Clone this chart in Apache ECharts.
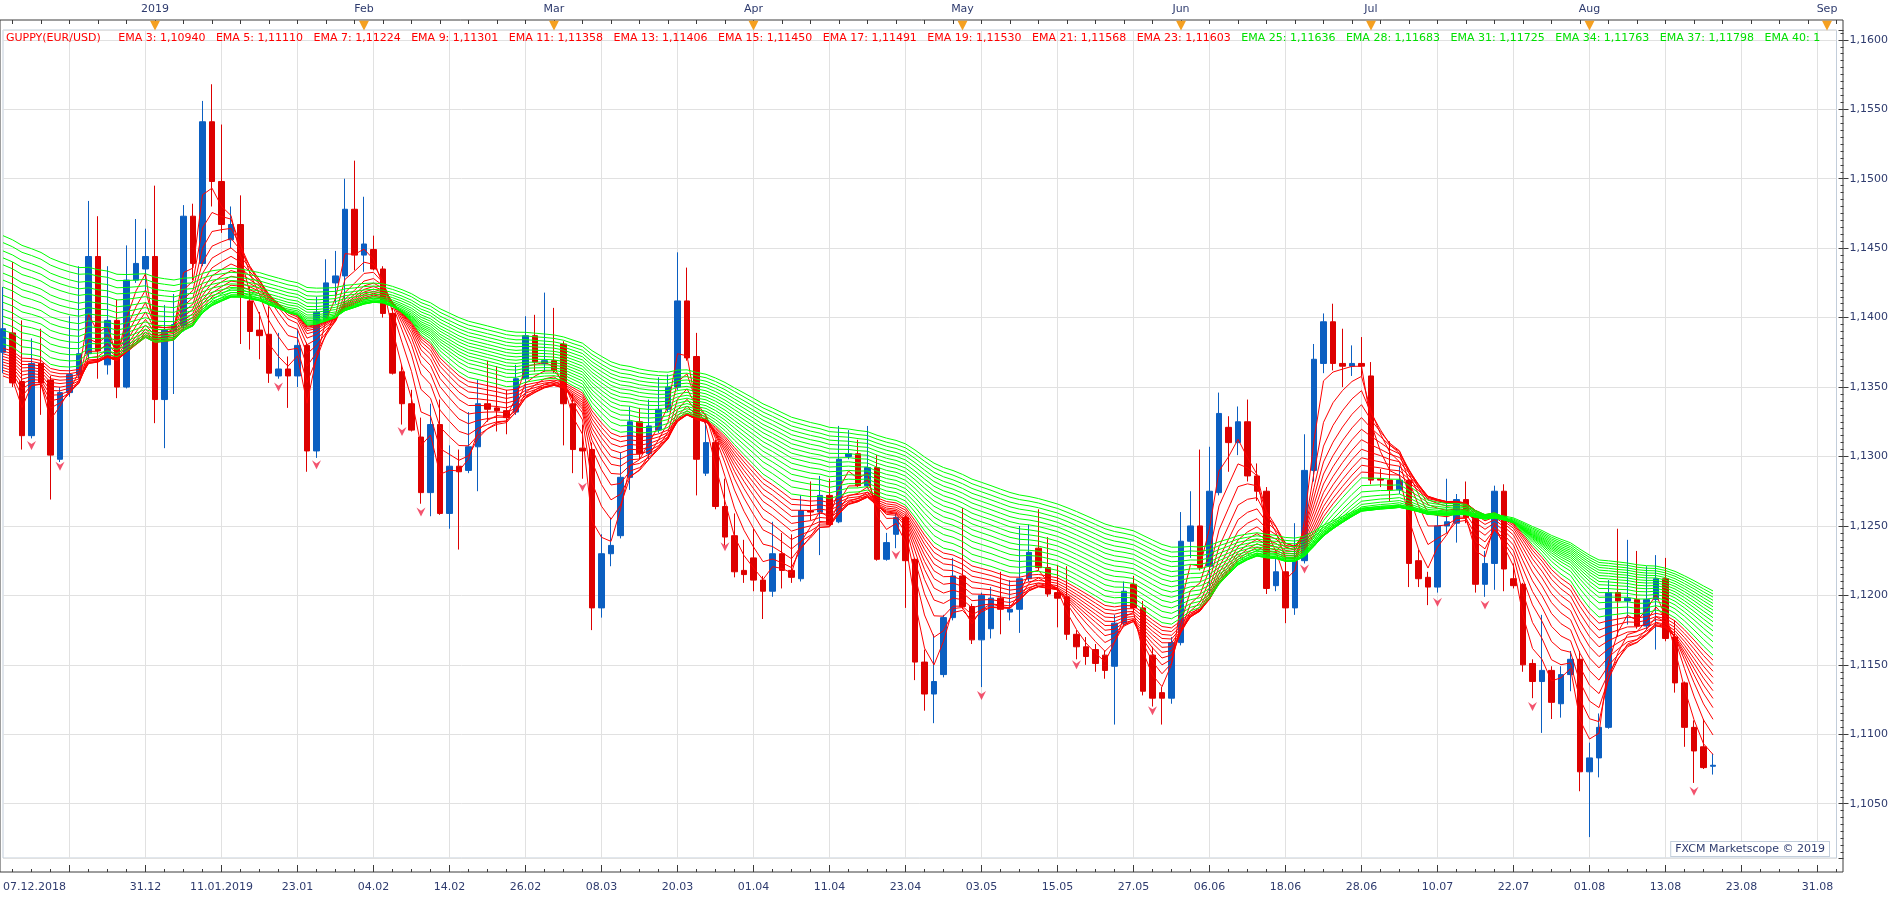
<!DOCTYPE html>
<html>
<head>
<meta charset="utf-8">
<title>GUPPY EUR/USD</title>
<script src="https://cdn.jsdelivr.net/npm/echarts@6/dist/echarts.min.js"></script>
<style>
  html, body { margin: 0; padding: 0; background: #fff; }
  #main { width: 1903px; height: 900px; }
</style>
</head>
<body>
<div id="main"></div>
<script>
// axis days: trading days up to the last bar, then calendar days
var holidays = ['2018-12-25', '2019-01-01'];
var firstDay = '2018-12-07', lastBar = '2019-08-20', axisEnd = '2019-09-02';

// daily candles [open, close, low, high]
var ohlc = [
  [1.1375,1.1392,1.1360,1.1422],[1.1389,1.1353,1.1350,1.1440],[1.1354,1.1315,1.1305,1.1398],[1.1315,1.1367,1.1313,1.1385],
  [1.1367,1.1353,1.1330,1.1392],[1.1355,1.1301,1.1269,1.1358],[1.1298,1.1346,1.1296,1.1350],[1.1346,1.1359,1.1343,1.1401],
  [1.1359,1.1374,1.1356,1.1437],[1.1374,1.1444,1.1370,1.1484],[1.1444,1.1376,1.1356,1.1473],[1.1366,1.1398,1.1359,1.1437],
  [1.1398,1.1350,1.1342,1.1413],[1.1350,1.1427,1.1349,1.1452],[1.1427,1.1439,1.1425,1.1471],[1.1435,1.1444,1.1420,1.1464],
  [1.1444,1.1341,1.1324,1.1495],[1.1341,1.1391,1.1306,1.1409],[1.1391,1.1395,1.1345,1.1417],[1.1394,1.1473,1.1390,1.1481],
  [1.1473,1.1439,1.1427,1.1482],[1.1439,1.1541,1.1437,1.1556],[1.1541,1.1498,1.1480,1.1568],[1.1498,1.1467,1.1461,1.1539],
  [1.1456,1.1467,1.1450,1.1480],[1.1467,1.1415,1.1381,1.1488],[1.1412,1.1390,1.1377,1.1422],[1.1391,1.1387,1.1370,1.1404],
  [1.1388,1.1360,1.1353,1.1408],[1.1358,1.1363,1.1356,1.1389],[1.1363,1.1358,1.1335,1.1372],[1.1358,1.1380,1.1350,1.1392],
  [1.1380,1.1304,1.1289,1.1382],[1.1304,1.1404,1.1299,1.1415],[1.1398,1.1425,1.1396,1.1442],[1.1425,1.1430,1.1410,1.1448],
  [1.1430,1.1478,1.1406,1.1500],[1.1478,1.1445,1.1434,1.1513],[1.1445,1.1453,1.1433,1.1487],[1.1449,1.1435,1.1434,1.1459],
  [1.1435,1.1403,1.1400,1.1437],[1.1403,1.1360,1.1359,1.1407],[1.1361,1.1338,1.1323,1.1366],[1.1338,1.1319,1.1318,1.1348],
  [1.1314,1.1274,1.1266,1.1328],[1.1274,1.1323,1.1257,1.1338],[1.1323,1.1259,1.1258,1.1341],[1.1259,1.1293,1.1248,1.1308],
  [1.1293,1.1289,1.1233,1.1305],[1.1290,1.1307,1.1288,1.1332],[1.1307,1.1338,1.1275,1.1355],[1.1338,1.1334,1.1325,1.1369],
  [1.1335,1.1333,1.1318,1.1365],[1.1333,1.1328,1.1316,1.1348],[1.1332,1.1356,1.1330,1.1366],[1.1356,1.1387,1.1344,1.1401],
  [1.1387,1.1368,1.1361,1.1402],[1.1367,1.1369,1.1361,1.1418],[1.1369,1.1362,1.1360,1.1407],[1.1381,1.1338,1.1308,1.1383],
  [1.1338,1.1305,1.1288,1.1345],[1.1306,1.1304,1.1284,1.1323],[1.1305,1.1191,1.1175,1.1310],[1.1191,1.1230,1.1184,1.1244],
  [1.1230,1.1236,1.1221,1.1256],[1.1243,1.1285,1.1241,1.1303],[1.1285,1.1325,1.1276,1.1336],[1.1325,1.1302,1.1298,1.1335],
  [1.1302,1.1322,1.1298,1.1341],[1.1319,1.1334,1.1317,1.1357],[1.1334,1.1350,1.1332,1.1359],[1.1350,1.1412,1.1348,1.1447],
  [1.1412,1.1371,1.1369,1.1436],[1.1372,1.1298,1.1272,1.1389],[1.1288,1.1310,1.1286,1.1326],[1.1310,1.1264,1.1262,1.1312],
  [1.1264,1.1242,1.1236,1.1284],[1.1243,1.1217,1.1213,1.1259],[1.1218,1.1215,1.1209,1.1240],[1.1227,1.1211,1.1203,1.1248],
  [1.1211,1.1203,1.1183,1.1214],[1.1203,1.1230,1.1199,1.1253],[1.1230,1.1218,1.1205,1.1245],[1.1218,1.1213,1.1209,1.1244],
  [1.1212,1.1261,1.1210,1.1272],[1.1261,1.1260,1.1254,1.1282],[1.1260,1.1272,1.1229,1.1286],[1.1272,1.1251,1.1250,1.1284],
  [1.1253,1.1298,1.1252,1.1322],[1.1300,1.1302,1.1298,1.1319],[1.1302,1.1279,1.1278,1.1312],[1.1279,1.1292,1.1277,1.1322],
  [1.1292,1.1226,1.1225,1.1301],[1.1226,1.1238,1.1225,1.1245],[1.1244,1.1256,1.1234,1.1259],[1.1256,1.1225,1.1191,1.1258],
  [1.1226,1.1152,1.1139,1.1227],[1.1152,1.1129,1.1117,1.1161],[1.1129,1.1138,1.1108,1.1172],[1.1143,1.1184,1.1141,1.1186],
  [1.1184,1.1214,1.1182,1.1227],[1.1214,1.1192,1.1190,1.1263],[1.1192,1.1168,1.1165,1.1194],[1.1168,1.1200,1.1134,1.1202],
  [1.1176,1.1198,1.1169,1.1206],[1.1198,1.1190,1.1172,1.1217],[1.1188,1.1190,1.1182,1.1211],[1.1190,1.1212,1.1173,1.1250],
  [1.1212,1.1231,1.1210,1.1251],[1.1234,1.1220,1.1218,1.1262],[1.1220,1.1201,1.1199,1.1242],[1.1202,1.1198,1.1177,1.1222],
  [1.1199,1.1172,1.1168,1.1221],[1.1172,1.1163,1.1154,1.1175],[1.1163,1.1156,1.1150,1.1170],[1.1161,1.1151,1.1145,1.1165],
  [1.1157,1.1146,1.1140,1.1160],[1.1149,1.1180,1.1107,1.1186],[1.1180,1.1203,1.1178,1.1210],[1.1208,1.1191,1.1188,1.1214],
  [1.1191,1.1131,1.1128,1.1196],[1.1157,1.1126,1.1120,1.1163],[1.1130,1.1126,1.1107,1.1134],[1.1126,1.1166,1.1122,1.1170],
  [1.1166,1.1239,1.1164,1.1260],[1.1239,1.1250,1.1227,1.1275],[1.1250,1.1220,1.1218,1.1305],[1.1221,1.1275,1.1199,1.1307],
  [1.1274,1.1331,1.1272,1.1346],[1.1321,1.1310,1.1289,1.1329],[1.1310,1.1325,1.1301,1.1336],[1.1325,1.1286,1.1282,1.1341],
  [1.1286,1.1275,1.1268,1.1295],[1.1275,1.1205,1.1201,1.1278],[1.1207,1.1217,1.1203,1.1227],[1.1217,1.1191,1.1180,1.1227],
  [1.1191,1.1225,1.1186,1.1252],[1.1225,1.1290,1.1223,1.1316],[1.1290,1.1370,1.1282,1.1381],[1.1367,1.1397,1.1360,1.1403],
  [1.1397,1.1367,1.1362,1.1410],[1.1367,1.1365,1.1350,1.1392],[1.1365,1.1367,1.1358,1.1380],[1.1367,1.1365,1.1358,1.1386],
  [1.1358,1.1283,1.1280,1.1368],[1.1284,1.1283,1.1278,1.1291],[1.1283,1.1276,1.1268,1.1311],[1.1276,1.1283,1.1273,1.1293],
  [1.1283,1.1223,1.1206,1.1284],[1.1225,1.1212,1.1206,1.1233],[1.1213,1.1206,1.1193,1.1217],[1.1206,1.1250,1.1202,1.1259],
  [1.1250,1.1253,1.1245,1.1284],[1.1252,1.1269,1.1238,1.1273],[1.1269,1.1256,1.1252,1.1282],[1.1257,1.1208,1.1202,1.1259],
  [1.1208,1.1223,1.1199,1.1232],[1.1223,1.1275,1.1204,1.1279],[1.1275,1.1219,1.1203,1.1280],[1.1212,1.1207,1.1205,1.1223],
  [1.1208,1.1150,1.1145,1.1209],[1.1151,1.1138,1.1126,1.1154],[1.1138,1.1146,1.1101,1.1186],[1.1146,1.1123,1.1111,1.1149],
  [1.1122,1.1143,1.1112,1.1149],[1.1143,1.1154,1.1131,1.1160],[1.1154,1.1073,1.1059,1.1160],[1.1073,1.1083,1.1026,1.1094],
  [1.1083,1.1105,1.1069,1.1115],[1.1105,1.1202,1.1104,1.1211],[1.1202,1.1196,1.1170,1.1248],[1.1196,1.1198,1.1179,1.1240],
  [1.1197,1.1178,1.1176,1.1232],[1.1178,1.1197,1.1175,1.1221],[1.1197,1.1212,1.1161,1.1229],[1.1212,1.1169,1.1167,1.1227],
  [1.1170,1.1137,1.1130,1.1182],[1.1137,1.1105,1.1091,1.1138],[1.1105,1.1088,1.1065,1.1110],[1.1091,1.1076,1.1075,1.1111],
  [1.1077,1.10777,1.1071,1.1086]
];

// GMMA: short group (red) and long group (green), value of each line at the first bar
var redPeriods = [3, 5, 7, 9, 11, 13, 15, 17, 19, 21, 23];
var redStart = [1.1358, 1.1360, 1.1362, 1.1364, 1.1366, 1.1368, 1.1370, 1.1372, 1.1374, 1.1376, 1.1378];
var greenPeriods = [25, 28, 31, 34, 37, 40, 43, 46, 49, 52, 55, 58, 61, 64, 67, 70];
var greenStart = [1.1381, 1.1386, 1.1391, 1.1396, 1.1401, 1.1406, 1.1411, 1.1416, 1.1422, 1.1427, 1.1432, 1.1438, 1.1443, 1.1448, 1.1454, 1.1459];

// header values as printed
var headerRed = ['1,10940', '1,11110', '1,11224', '1,11301', '1,11358', '1,11406', '1,11450', '1,11491', '1,11530', '1,11568', '1,11603'];
var headerGreen = ['1,11636', '1,11683', '1,11725', '1,11763', '1,11798', '1'];

// signal arrows under candles
var signalBars = [3, 6, 29, 33, 42, 44, 61, 76, 94, 103, 113, 121, 137, 151, 156, 161, 178];
var signalValues = [1.1308, 1.1293, 1.1350, 1.1294, 1.1318, 1.1260, 1.1278, 1.1235, 1.1229, 1.1128, 1.1150, 1.1117, 1.1219, 1.1195, 1.1193, 1.1120, 1.1059];

var monthNames = ['Jan', 'Feb', 'Mar', 'Apr', 'May', 'Jun', 'Jul', 'Aug', 'Sep', 'Oct', 'Nov', 'Dec'];

var categories = [];
(function () {
  var d = new Date(firstDay + 'T00:00:00Z');
  var last = new Date(lastBar + 'T00:00:00Z').getTime();
  var end = new Date(axisEnd + 'T00:00:00Z').getTime();
  while (d.getTime() <= end) {
    var iso = d.toISOString().slice(0, 10);
    var wd = d.getUTCDay();
    if (d.getTime() > last || (wd !== 0 && wd !== 6 && holidays.indexOf(iso) < 0)) categories.push(iso);
    d.setUTCDate(d.getUTCDate() + 1);
  }
})();

function dayMonth(iso) { return iso.slice(8, 10) + '.' + iso.slice(5, 7); }
function fullDate(iso) { return dayMonth(iso) + '.' + iso.slice(0, 4); }
function isMonthStart(i) { return i > 0 && categories[i].slice(5, 7) !== categories[i - 1].slice(5, 7); }
function isGridBar(i) { return i >= 7 && (i - 7) % 8 === 0; }
function isDateLabel(i) { return i >= 15 && (i - 15) % 8 === 0; }
function comma(v, n) { return v.toFixed(n).replace('.', ','); }

var closes = ohlc.map(function (d) { return d[1]; });

function ema(period, seed) {
  var a = 2 / (period + 1), e = seed, out = [];
  for (var i = 0; i < closes.length; i++) {
    if (i > 0) e = e + a * (closes[i] - e);
    out.push(+e.toFixed(5));
  }
  return out;
}

var yMin = 1.101094, yMax = 1.160706;
var axisColor = '#2e3b6e';
var font = 'DejaVu Sans';

var series = [{
  type: 'candlestick',
  data: ohlc,
  barWidth: 6,
  clip: false,
  silent: true,
  itemStyle: { color: '#0b5fc1', borderColor: '#0b5fc1', color0: '#dd0000', borderColor0: '#dd0000', borderWidth: 1 },
  markLine: {
    symbol: 'none', silent: true, animation: false,
    lineStyle: { opacity: 0 },
    label: {
      position: 'end', distance: 8, formatter: comma(closes[closes.length - 1], 5),
      backgroundColor: '#5ec6f6', color: '#1a2a5c', fontFamily: font, fontSize: 11, padding: [3, 3, 2, 3]
    },
    data: [{ yAxis: closes[closes.length - 1] }]
  }
}];

redPeriods.forEach(function (p, k) {
  series.push({ type: 'line', data: ema(p, redStart[k]), showSymbol: false, silent: true,
    lineStyle: { width: 1, color: '#ff0000' }, z: 3 });
});
greenPeriods.forEach(function (p, k) {
  series.push({ type: 'line', data: ema(p, greenStart[k]), showSymbol: false, silent: true,
    lineStyle: { width: 1, color: '#00ff00' }, z: 4 });
});
series.push({
  type: 'scatter', silent: true, z: 6,
  symbol: 'path://M0,0 L5,3.5 L10,0 L5,10 Z', symbolSize: [9, 9],
  itemStyle: { color: '#f0284a' },
  data: signalBars.map(function (b, k) { return [b, signalValues[k]]; })
});

var header = '{r|GUPPY(EUR/USD)  }';
redPeriods.forEach(function (p, k) { header += '{r|   EMA ' + p + ': ' + headerRed[k] + '}'; });
headerGreen.forEach(function (v, k) { header += '{g|   EMA ' + greenPeriods[k] + ': ' + v + '}'; });

var baseX = { type: 'category', data: categories, boundaryGap: false, gridIndex: 0 };
function xa(extra) { var o = {}; for (var k in baseX) o[k] = baseX[k]; for (var k2 in extra) o[k2] = extra[k2]; return o; }

var option = {
  animation: false,
  backgroundColor: '#ffffff',
  grid: [
    { left: 3, right: 66.5, top: 30, bottom: 42, show: true, backgroundColor: '#ffffff', borderColor: '#c3cedb', borderWidth: 1 },
    { left: -10, right: 60, top: 20, bottom: 28, show: true, borderColor: '#3c3c3c', borderWidth: 1 }
  ],
  xAxis: [
    xa({ position: 'bottom', offset: 14,
      axisLine: { show: false },
      axisTick: { show: true, inside: true, length: 7, interval: function (i) { return isGridBar(i); }, lineStyle: { color: '#3c3c3c' } },
      axisLabel: { interval: function (i) { return isDateLabel(i); }, margin: 10, color: axisColor, fontFamily: font, fontSize: 11,
        formatter: function (v, i) {
          var prev = i === 15 ? 0 : i - 8;
          return categories[prev].slice(0, 4) !== v.slice(0, 4) ? fullDate(v) : dayMonth(v);
        } },
      splitLine: { show: true, interval: function (i) { return isGridBar(i); }, lineStyle: { color: '#e1e1e1', width: 1 } }
    }),
    xa({ position: 'bottom', offset: 14, axisLine: { show: false }, axisTick: { show: false }, splitLine: { show: false },
      axisLabel: { interval: function (i) { return i === 0; }, align: 'left', margin: 10, color: axisColor, fontFamily: font, fontSize: 11,
        formatter: function (v) { return fullDate(v); } } }),
    xa({ position: 'bottom', offset: 14, axisLine: { show: false }, axisLabel: { show: false }, splitLine: { show: false },
      axisTick: { show: true, inside: true, length: 3, interval: function (i) { return i % 2 === 1 && !isGridBar(i); }, lineStyle: { color: '#3c3c3c' } } }),
    xa({ position: 'top', offset: 10, axisLine: { show: false }, splitLine: { show: false },
      axisTick: { show: true, inside: true, length: 4, interval: function (i) { return i % 3 === 1; }, lineStyle: { color: '#3c3c3c' } },
      axisLabel: { interval: function (i) { return isMonthStart(i); }, margin: 5, color: axisColor, fontFamily: font, fontSize: 11,
        formatter: function (v) { var m = +v.slice(5, 7) - 1; return m === 0 ? v.slice(0, 4) : monthNames[m]; } } }),
    xa({ position: 'top', offset: 10, axisLine: { show: false }, axisTick: { show: false }, splitLine: { show: false },
      axisLabel: { inside: true, interval: function (i) { return isMonthStart(i); }, margin: -1, color: '#f5a020', fontSize: 13,
        fontFamily: font, formatter: function () { return '\u25BC'; } } })
  ],
  yAxis: [
    { type: 'value', position: 'right', offset: 7, min: yMin, max: yMax, splitNumber: 12, gridIndex: 0,
      axisLine: { show: false },
      axisTick: { show: true, inside: false, length: 5, lineStyle: { color: '#3c3c3c' } },
      axisLabel: { margin: 6, color: axisColor, fontFamily: font, fontSize: 11, showMinLabel: false, showMaxLabel: false,
        formatter: function (v) { return comma(v, 4); } },
      splitLine: { show: true, lineStyle: { color: '#e1e1e1', width: 1 } } },
    { type: 'value', position: 'right', offset: 7, min: yMin, max: yMax, splitNumber: 12, gridIndex: 0,
      axisLine: { show: false }, axisLabel: { show: false }, splitLine: { show: false },
      axisTick: { show: true, inside: true, length: 5, lineStyle: { color: '#3c3c3c' } },
      minorTick: { show: true, splitNumber: 10, length: 3, lineStyle: { color: '#3c3c3c' } } }
  ],
  graphic: [
    { type: 'text', left: 6, top: 33, silent: true, z: 10,
      style: { text: header, font: '11px "DejaVu Sans"', rich: { r: { fill: '#ff0000' }, g: { fill: '#00e000' } } } },
    { type: 'text', right: 73, bottom: 43, silent: true, z: 10,
      style: { text: 'FXCM Marketscope \u00A9 2019', font: '11px "DejaVu Sans"', fill: axisColor,
        backgroundColor: '#ffffff', borderColor: '#c3cedb', borderWidth: 1, padding: [2, 4, 1, 4] } }
  ],
  series: series
};

var chart = echarts.init(document.getElementById('main'));
chart.setOption(option);
</script>
</body>
</html>
